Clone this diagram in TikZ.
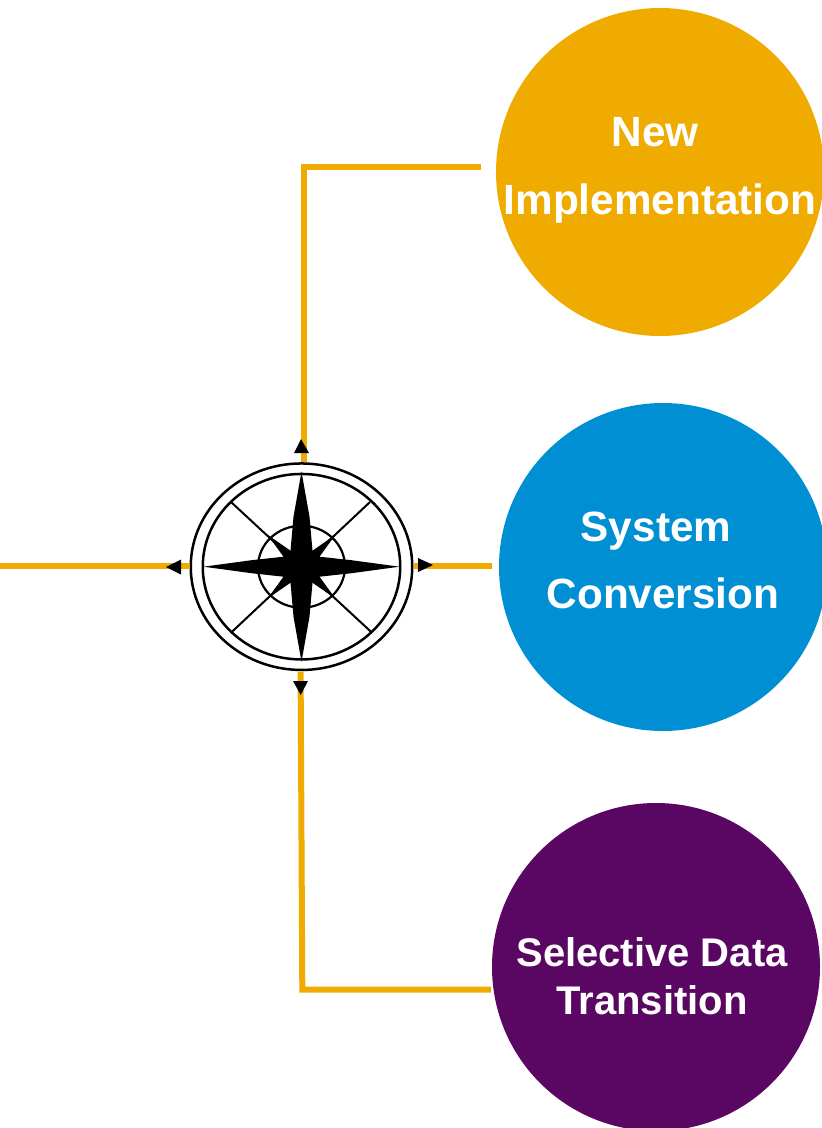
\documentclass[tikz,border=0pt]{standalone}
\usepackage{fontspec}
\setmainfont{Liberation Sans}
\usetikzlibrary{shapes.geometric}
\definecolor{sapgold}{HTML}{F0AB00}
\definecolor{sapblue}{HTML}{008FD3}
\definecolor{sappurple}{HTML}{5A0763}
\tikzset{
  path circle/.style={circle, minimum size=328pt, inner sep=0pt, fill=#1},
  path label/.style={anchor=base, text=white, font=\bfseries\fontsize{42.3}{50}\selectfont, inner sep=0pt},
  path line/.style={draw=sapgold, line width=6pt}
}
\begin{document}
\begin{tikzpicture}[x=1pt, y=-1pt]
                \useasboundingbox (0,0) rectangle (822,1128);
                % migration paths
                \node[path circle=sapgold] (newimpl) at (660,172) {};
                \node[path circle=sapblue] (sysconv) at (663,567) {};
                \node[path circle=sappurple] (seldata) at (656,967) {};
                \node[path label] (newline) at (655,146) {New};
                \node[path label] (implline) at (660,214) {Implementation};
                \node[path label] (sysline) at (656,541) {System};
                \node[path label] (convline) at (663,608) {Conversion};
                \node[path label, font=\bfseries\fontsize{40}{48}\selectfont] (selline) at (652,966) {Selective Data};
                \node[path label, font=\bfseries\fontsize{40}{48}\selectfont] (transline) at (652,1014) {Transition};
                % compass rings
                \node[ellipse, draw, line width=2.5pt, fill=white, minimum width=221.5pt, minimum height=206.5pt, inner sep=0pt] (compass) at (301.5,566.7) {};
                \node[ellipse, draw, line width=2.5pt, minimum width=197.5pt, minimum height=185.5pt, inner sep=0pt] (dial) at (301.5,566.7) {};
                \node[ellipse, draw, line width=2.2pt, minimum width=87pt, minimum height=82pt, inner sep=0pt] (hub) at (301.5,566.7) {};
                % connectors
                \coordinate (newend) at (481,167);
                \coordinate (newbend) at (304,167);
                \coordinate (convend) at (492,566);
                \coordinate (leftend) at (0,566);
                \coordinate (selend) at (491,989.5);
                \coordinate (selbend) at (302.3,989.5);
                \draw[path line, line join=miter] (newend) -- (newbend) -- (newbend |- compass.north);
                \draw[path line] (compass.east |- convend) -- (convend);
                \draw[path line] (leftend) -- (compass.west |- leftend);
                \draw[path line, line join=miter] (selend) -- (selbend) -- (300.6,671.5);
                % arrow heads
                \fill[black] (294,453) -- (301,439) -- (309,453) -- cycle;
                \fill[black] (181,559.5) -- (166,567) -- (181,574.5) -- cycle;
                \fill[black] (418,558) -- (433,565) -- (418,572) -- cycle;
                \fill[black] (293,681) -- (300.7,695) -- (308,681) -- cycle;
                % spokes
                \draw[line width=2pt] (231,502) -- (372,632.7);
                \draw[line width=2pt] (370,502) -- (231,632.7);
                % star
                \begin{scope}[shift={(301.5,566.7)}]
                  \fill[black] (0,-95) -- (8,-50) -- (11,-16) -- (34,-32) -- (18,-10) -- (50,-6.5)
                    -- (98,0) -- (50,6.5) -- (18,10) -- (34,32) -- (11,16) -- (8,50)
                    -- (0,95) -- (-8,50) -- (-11,16) -- (-34,32) -- (-18,10) -- (-50,6.5)
                    -- (-98,0) -- (-50,-6.5) -- (-18,-10) -- (-34,-32) -- (-11,-16) -- (-8,-50) -- cycle;
                \end{scope}
\end{tikzpicture}
\end{document}
